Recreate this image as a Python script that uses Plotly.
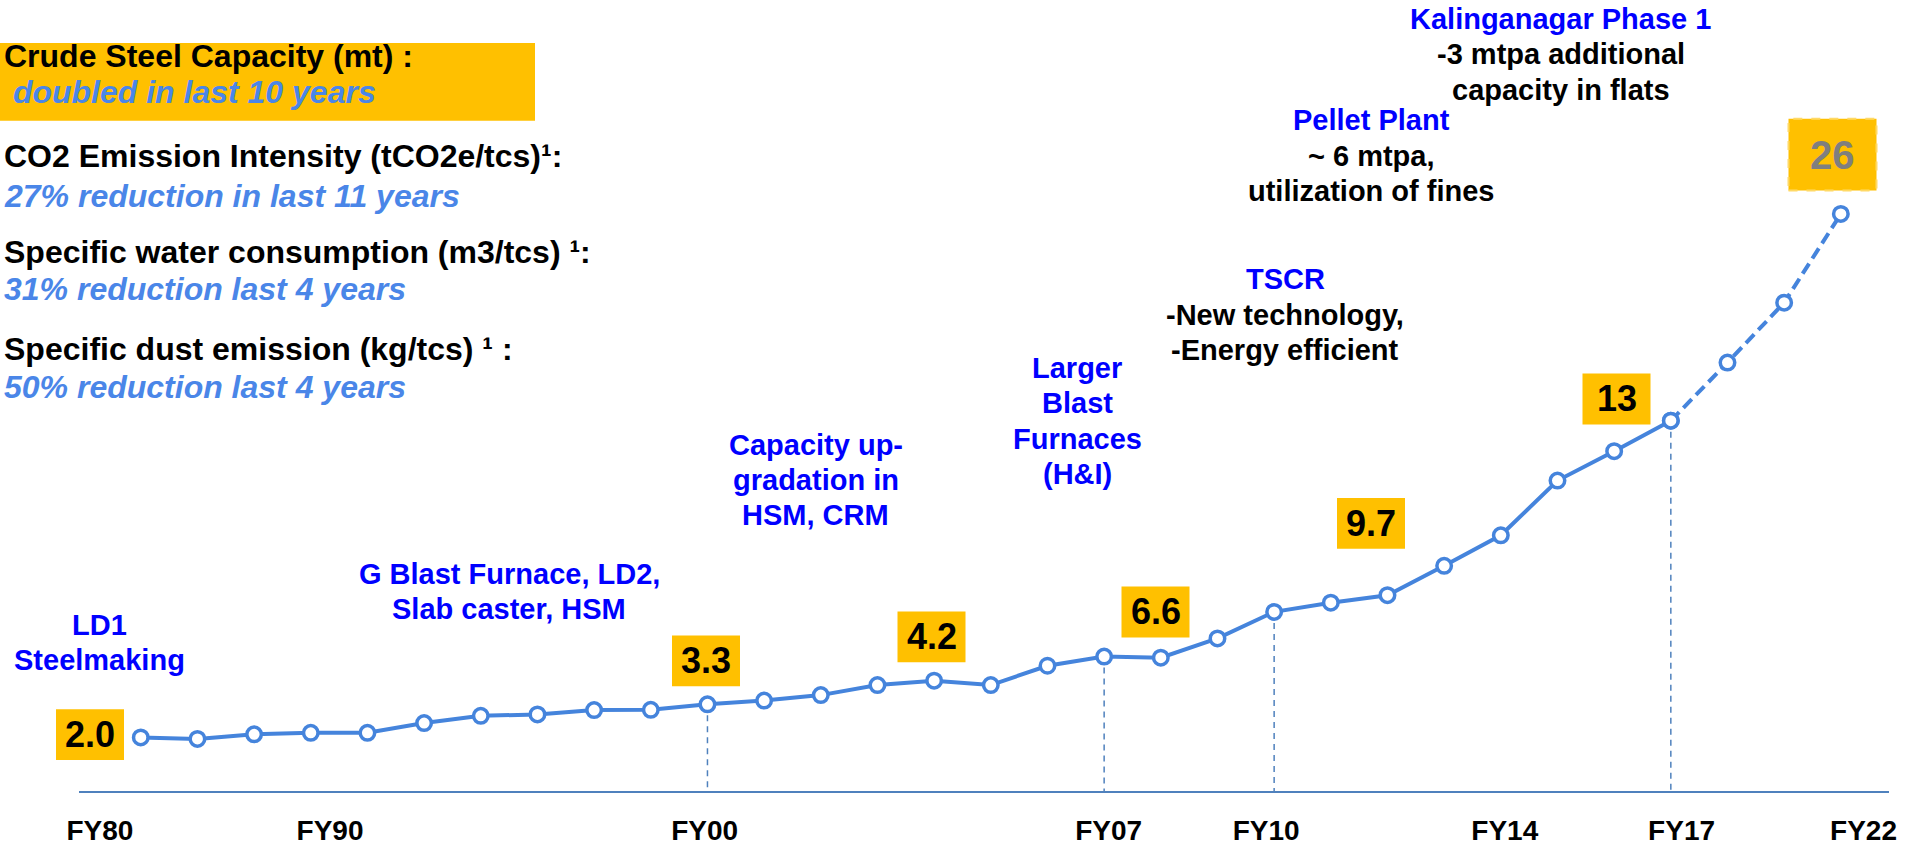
import plotly.graph_objects as go

# crude steel capacity, one point per year (index along the x axis)
capacity = [2.00, 1.95, 2.11, 2.16, 2.16, 2.50, 2.75, 2.80, 2.95, 2.96,
            3.15, 3.28, 3.47, 3.82, 3.97, 3.82, 4.49, 4.81, 4.77, 5.44,
            6.36, 6.68, 6.94, 7.96, 9.02, 10.92, 11.94, 13.00, 15.02, 17.10,
            20.18]
x_idx = list(range(len(capacity)))
projection_start = 27          # dashed (planned) part starts here
dropline_points = [10, 17, 20, 27]

tick_labels = ["FY80", "FY90", "FY00", "FY07", "FY10", "FY14", "FY17", "FY22"]
tick_pos = [-0.72, 3.34, 9.95, 17.08, 19.86, 24.07, 27.19, 30.40]

box_labels = ["2.0", "3.3", "4.2", "6.6", "9.7", "13", "26"]

header_lines = [
    ("Crude Steel Capacity (mt) :", " doubled in last 10 years"),
    ("CO2 Emission Intensity (tCO2e/tcs)¹:", "27% reduction in last 11 years"),
    ("Specific water consumption (m3/tcs) ¹:", "31% reduction last 4 years"),
    ("Specific dust emission (kg/tcs) ¹ :", "50% reduction last 4 years"),
]

# (lines, how many of the first lines are blue)
milestones = [
    (["LD1", "Steelmaking"], 2),
    (["G Blast Furnace, LD2,", "Slab caster, HSM"], 2),
    (["Capacity up-", "gradation in", "HSM, CRM"], 3),
    (["Larger", "Blast", "Furnaces", "(H&I)"], 4),
    (["TSCR", "-New technology,", "-Energy efficient"], 1),
    (["Pellet Plant", "~ 6 mtpa,", "utilization of fines"], 1),
    (["Kalinganagar Phase 1", "-3 mtpa additional", "capacity in flats"], 1),
]

FONT = "Liberation Sans, Arial, sans-serif"
LINE_BLUE = "#4584DC"
DROP_BLUE = "#4F81BD"
TEXT_BLUE = "#0000FF"
ITALIC_BLUE = "#4A86E8"
GOLD = "#FFC000"

W, H = 1919, 846
L, R, T, B = 79, 30, 0, 53


def px(x):
    return (x - L) / (W - L - R)


def py(y):
    return (H - B - y) / (H - B - T)


fig = go.Figure()

# drop lines from key years down to the axis
y_floor = 0.14
for i in dropline_points:
    fig.add_trace(go.Scatter(
        x=[x_idx[i], x_idx[i]], y=[capacity[i], y_floor], mode="lines",
        line=dict(color=DROP_BLUE, width=1.5, dash="6px,5px"),
        hoverinfo="skip", showlegend=False))

fig.add_trace(go.Scatter(
    x=x_idx[projection_start:], y=capacity[projection_start:], mode="lines+markers",
    line=dict(color=LINE_BLUE, width=4, dash="12px,6px"),
    marker=dict(size=14.5, color="white", line=dict(color=LINE_BLUE, width=3.5)),
    showlegend=False))
fig.add_trace(go.Scatter(
    x=x_idx[:projection_start + 1], y=capacity[:projection_start + 1], mode="lines+markers",
    line=dict(color=LINE_BLUE, width=4),
    marker=dict(size=14.5, color="white", line=dict(color=LINE_BLUE, width=3.5)),
    showlegend=False))

ann = []

# left header block
fig.add_shape(type="rect", xref="paper", yref="paper",
              x0=px(0), x1=px(535), y0=py(121), y1=py(43),
              fillcolor=GOLD, line=dict(width=0), layer="below")
header_y = [(55.7, 92.3), (156.7, 196), (252.7, 290), (350, 388.3)]
for (head, sub), (y1, y2) in zip(header_lines, header_y):
    ann.append(dict(text=head, x=px(2), y=py(y1), xanchor="left", yanchor="middle",
                    font=dict(family=FONT, size=32, color="black", weight="bold")))
    ann.append(dict(text=sub, x=px(2), y=py(y2), xanchor="left", yanchor="middle",
                    font=dict(family=FONT, size=32, color=ITALIC_BLUE, weight="bold",
                              style="italic")))

# milestone notes
note_pos = [(99, 626.7), (509, 575), (815.5, 446), (1077, 369),
            (1285, 280), (1371.7, 120.7), (1560.5, 19)]
for (lines, n_blue), (cx, y0) in zip(milestones, note_pos):
    for k, line in enumerate(lines):
        ann.append(dict(text=line, x=px(cx), y=py(y0 + k * 35.4),
                        xanchor="center", yanchor="middle",
                        font=dict(family=FONT, size=29, weight="bold",
                                  color=TEXT_BLUE if k < n_blue else "black")))

# value boxes
box_pos = [(90, 736.5), (706, 662.5), (931.5, 638.5), (1155.5, 613.5),
           (1371, 524.7), (1616.5, 400), (1832.5, 155)]
for k, (label, (cx, cy)) in enumerate(zip(box_labels, box_pos)):
    last = k == len(box_labels) - 1
    bw, bh = (88, 72) if last else (68, 51)
    fig.add_shape(type="rect", xref="paper", yref="paper",
                  x0=px(cx - bw / 2), x1=px(cx + bw / 2),
                  y0=py(cy + bh / 2), y1=py(cy - bh / 2),
                  fillcolor=GOLD,
                  line=dict(color="#FFD966", width=2, dash="dash") if last else dict(width=0))
    ann.append(dict(text=label, x=px(cx), y=py(cy), xanchor="center", yanchor="middle",
                    font=dict(family=FONT, size=40 if last else 36, weight="bold",
                              color="#7F7F7F" if last else "black")))

for a in ann:
    a.update(xref="paper", yref="paper", showarrow=False)

fig.update_layout(
    width=W, height=H,
    margin=dict(l=L, r=R, t=T, b=B),
    paper_bgcolor="white", plot_bgcolor="white",
    annotations=ann,
    xaxis=dict(range=[-1.09, 30.85], showgrid=False, zeroline=False,
               showline=True, linecolor=DROP_BLUE, linewidth=1.5,
               tickmode="array", tickvals=tick_pos, ticktext=tick_labels,
               ticks="", ticklabelstandoff=14,
               tickfont=dict(family=FONT, size=28, color="black", weight="bold")),
    yaxis=dict(range=[y_floor, 27.61], visible=False),
)

fig.write_html("out.html", config={"displayModeBar": False},
               post_script="document.body.style.margin='0';")
